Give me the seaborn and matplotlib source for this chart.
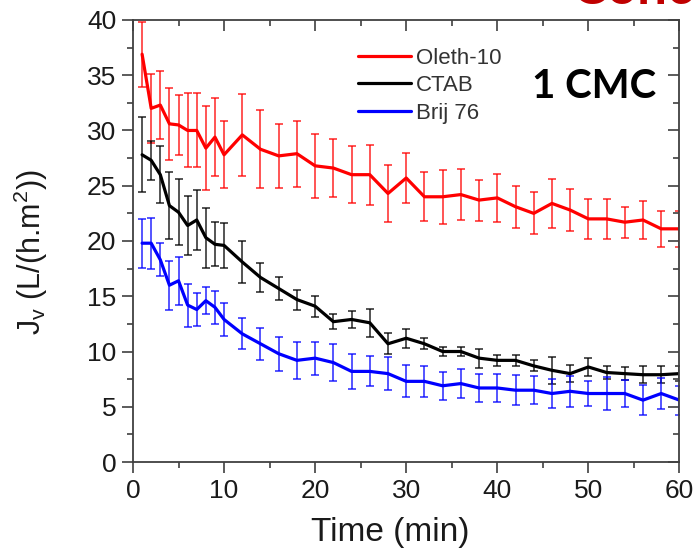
import pandas as pd
import matplotlib.pyplot as plt
import seaborn as sns
from matplotlib.ticker import MultipleLocator

# data
time_min = [1, 2, 3, 4, 5, 6, 7, 8, 9, 10, 12, 14, 16, 18, 20, 22, 24, 26, 28, 30,
            32, 34, 36, 38, 40, 42, 44, 46, 48, 50, 52, 54, 56, 58, 60]

oleth10 = [36.9, 32.0, 32.3, 30.6, 30.5, 30.0, 30.0, 28.4, 29.4, 27.8, 29.6, 28.3,
           27.7, 27.9, 26.8, 26.6, 26.0, 26.0, 24.3, 25.7, 24.0, 24.0, 24.2, 23.7,
           23.9, 23.1, 22.5, 23.4, 22.8, 22.0, 22.0, 21.7, 21.9, 21.1, 21.1]
oleth10_err = [2.95, 3.1, 3.1, 3.25, 2.7, 3.35, 3.35, 3.8, 3.5, 3.05, 3.7, 3.55,
               2.9, 3.0, 2.9, 2.65, 2.6, 2.7, 2.6, 2.3, 2.2, 2.45, 2.3, 1.85,
               2.2, 1.9, 1.9, 2.2, 1.9, 1.8, 1.8, 1.4, 1.7, 1.65, 1.6]

ctab = [27.8, 27.3, 26.0, 23.2, 22.6, 21.4, 21.9, 20.3, 19.7, 19.6, 18.1, 16.7,
        15.7, 14.7, 14.1, 12.7, 12.9, 12.6, 10.7, 11.2, 10.7, 10.0, 10.0, 9.4,
        9.2, 9.2, 8.7, 8.3, 8.0, 8.6, 8.1, 8.0, 7.9, 7.9, 8.0]
ctab_err = [3.4, 1.75, 2.6, 3.0, 3.0, 2.7, 2.7, 2.7, 2.0, 2.0, 1.9, 1.35,
            1.05, 0.9, 0.95, 0.65, 0.75, 1.25, 0.95, 0.85, 0.5, 0.45, 0.45, 0.85,
            0.5, 0.5, 0.5, 1.2, 0.8, 0.85, 0.6, 0.6, 0.75, 0.75, 0.7]

brij76 = [19.8, 19.8, 18.3, 16.0, 16.4, 14.2, 13.8, 14.6, 14.0, 12.9, 11.6, 10.7,
          9.8, 9.2, 9.4, 9.0, 8.2, 8.2, 8.0, 7.3, 7.3, 6.9, 7.1, 6.7,
          6.7, 6.5, 6.5, 6.2, 6.4, 6.2, 6.2, 6.2, 5.6, 6.2, 5.6]
brij76_err = [2.2, 2.3, 1.5, 2.2, 2.15, 1.95, 1.5, 1.25, 1.5, 1.5, 1.4, 1.45,
              1.55, 1.65, 1.5, 1.65, 1.55, 1.35, 1.5, 1.45, 1.4, 1.25, 1.3, 1.3,
              1.3, 1.35, 1.25, 1.35, 1.4, 1.15, 1.45, 1.25, 1.35, 1.4, 1.3]

labels = ["Oleth-10", "CTAB", "Brij 76"]
colors = ["#ff0000", "#000000", "#0000ff"]
values = [oleth10, ctab, brij76]
errors = [oleth10_err, ctab_err, brij76_err]

frames = []
for lab, v, e in zip(labels, values, errors):
    frames.append(pd.DataFrame({"Time": time_min, "Jv": v, "err": e, "Surfactant": lab}))
df = pd.concat(frames, ignore_index=True)

sns.set_style("ticks")
plt.rcParams["font.family"] = ["Liberation Sans", "DejaVu Sans"]
plt.rcParams["mathtext.fontset"] = "custom"
plt.rcParams["mathtext.rm"] = "Liberation Sans"

fig = plt.figure(figsize=(6.97, 5.54), dpi=100)
ax = fig.add_axes([0.1908, 0.166, 0.784, 0.798])

# error bars
for lab, col in zip(labels, colors):
    d = df[df["Surfactant"] == lab]
    ax.errorbar(d["Time"], d["Jv"], yerr=d["err"], fmt="none", ecolor=col,
                elinewidth=1.1, capsize=2.6, capthick=1.1, alpha=0.85)

sns.lineplot(data=df, x="Time", y="Jv", hue="Surfactant", hue_order=labels,
             palette=colors, linewidth=2.3, ax=ax)

ax.set_xlim(0, 60)
ax.set_ylim(0, 40)
ax.xaxis.set_major_locator(MultipleLocator(10))
ax.xaxis.set_minor_locator(MultipleLocator(5))
ax.yaxis.set_major_locator(MultipleLocator(5))
ax.yaxis.set_minor_locator(MultipleLocator(2.5))

spine_col = "#404040"
for s in ax.spines.values():
    s.set_visible(True)
    s.set_color(spine_col)
    s.set_linewidth(1.3)

ax.tick_params(which="both", direction="out", color=spine_col, width=1.2,
               labelsize=19, labelcolor="#1a1a1a", pad=4)
ax.tick_params(which="major", length=8)
ax.tick_params(which="minor", length=4)

# inward ticks on the top and right sides
top = ax.secondary_xaxis("top")
top.xaxis.set_major_locator(MultipleLocator(10))
top.xaxis.set_minor_locator(MultipleLocator(5))
top.tick_params(which="both", direction="in", color=spine_col, width=1.2, labeltop=False)
top.tick_params(which="major", length=8)
top.tick_params(which="minor", length=4)
top.spines["top"].set_visible(False)
right = ax.secondary_yaxis("right")
right.yaxis.set_major_locator(MultipleLocator(5))
right.yaxis.set_minor_locator(MultipleLocator(2.5))
right.tick_params(which="both", direction="in", color=spine_col, width=1.2, labelright=False)
right.tick_params(which="major", length=8)
right.tick_params(which="minor", length=4)
right.spines["right"].set_visible(False)

ax.set_xlabel("Time (min)", fontsize=24, color="#1a1a1a")
ax.set_ylabel(r"J$_\mathregular{v}$ (L/(h.m$^\mathregular{2}$))", fontsize=22, color="#1a1a1a")
ax.xaxis.set_label_coords(0.47, -0.125)
ax.yaxis.set_label_coords(-0.152, 0.475)

sns.move_legend(ax, "upper left", bbox_to_anchor=(0.5136, 0.914),
                bbox_transform=fig.transFigure, frameon=False, title=None,
                fontsize=16, labelcolor="#333333", handlelength=2.4,
                handletextpad=0.2, labelspacing=0.29, borderpad=0, borderaxespad=0)

fig.text(0.852, 0.843, "1 CMC", fontsize=29, fontweight="bold", family="Lato",
         ha="center", va="center", color="black")
# title text that the reference shows cut off at the top edge
fig.text(0.8207, 0.993, "Conc", fontsize=38, fontweight="bold", family="Lato",
         ha="left", va="baseline", color="#c00000")

fig.savefig("out.png", dpi=100)
